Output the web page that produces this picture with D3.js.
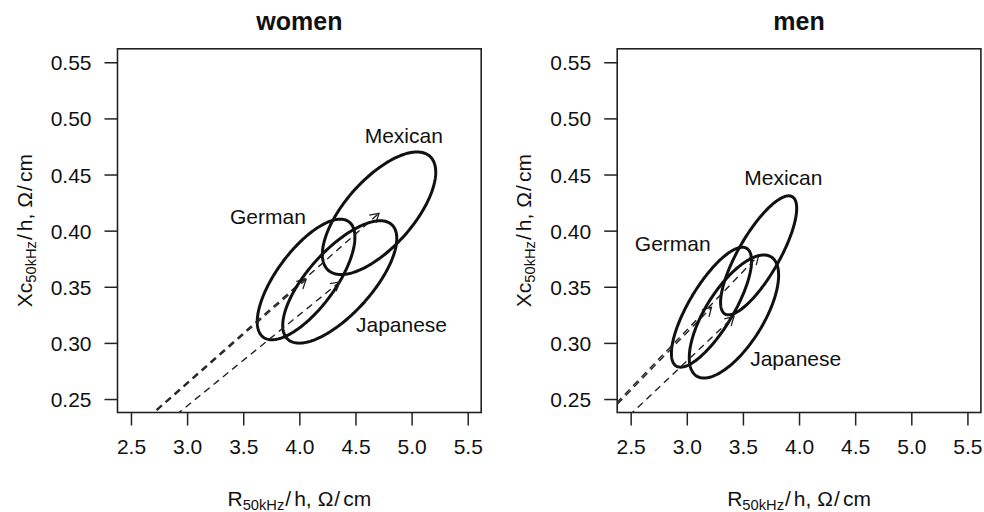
<!DOCTYPE html>
<html>
<head>
  <script src="https://d3js.org/d3.v7.min.js"></script>
  <style>
    body { margin: 0; background: #fff; }
    text { font-family: "Liberation Sans", Arial, sans-serif; fill: #111; }
  </style>
</head>
<body>
  <svg width="984" height="512"></svg>

  <script>
    // groups, same order in every array
    const groups = ["German", "Mexican", "Japanese"];

    // women: mean vectors, half extents of the ellipse, correlation R-Xc
    const womenMeanR = [4.06, 4.71, 4.36];
    const womenMeanXc = [0.3565, 0.4155, 0.3543];
    const womenHalfR = [0.435, 0.505, 0.508];
    const womenHalfXc = [0.0537, 0.0546, 0.0545];
    const womenCorr = [0.70, 0.67, 0.71];
    const womenLabelR = [3.72, 4.93, 4.91];
    const womenLabelXc = [0.4124, 0.485, 0.3168];

    // men
    const menMeanR = [3.22, 3.64, 3.42];
    const menMeanXc = [0.3318, 0.378, 0.3235];
    const menHalfR = [0.357, 0.339, 0.398];
    const menHalfXc = [0.0534, 0.053, 0.0548];
    const menCorr = [0.77, 0.79, 0.67];
    const menLabelR = [2.875, 3.86, 3.97];
    const menLabelXc = [0.3886, 0.4473, 0.2863];

    const xTicks = [2.5, 3.0, 3.5, 4.0, 4.5, 5.0, 5.5];
    const yTicks = [0.25, 0.30, 0.35, 0.40, 0.45, 0.50, 0.55];
    const xLim = [2.38, 5.62];
    const yLim = [0.238, 0.562];

    const panels = [
      { title: "women", left: 117.5, meanR: womenMeanR, meanXc: womenMeanXc, halfR: womenHalfR,
        halfXc: womenHalfXc, corr: womenCorr, labR: womenLabelR, labXc: womenLabelXc },
      { title: "men", left: 617.2, meanR: menMeanR, meanXc: menMeanXc, halfR: menHalfR,
        halfXc: menHalfXc, corr: menCorr, labR: menLabelR, labXc: menLabelXc }
    ];

    const svg = d3.select("svg");
    const size = 363.7, plotTop = 48.8, fs = 21;

    // axis title like R plotmath: main[sub]/h, Omega/cm
    function mathLabel(t, main) {
      t.append("tspan").text(main);
      t.append("tspan").attr("dy", 4).style("font-size", "14.7px").text("50kHz");
      t.append("tspan").attr("dy", -4).attr("dx", 1).text("/");
      t.append("tspan").attr("dx", 3).text("h,");
      t.append("tspan").attr("dx", 6).text("Ω");
      t.append("tspan").attr("dx", 1).text("/");
      t.append("tspan").attr("dx", 3).text("cm");
    }

    panels.forEach((p, pi) => {
      const x = d3.scaleLinear().domain(xLim).range([p.left, p.left + size]);
      const y = d3.scaleLinear().domain(yLim).range([plotTop + size, plotTop]);
      const g = svg.append("g");

      g.append("clipPath").attr("id", "clip" + pi)
        .append("rect").attr("x", p.left).attr("y", plotTop).attr("width", size).attr("height", size);

      // axes
      const ax = g.append("g").attr("transform", `translate(0,${plotTop + size})`)
        .call(d3.axisBottom(x).tickValues(xTicks).tickFormat(d3.format(".1f")).tickSize(13).tickPadding(9));
      const ay = g.append("g").attr("transform", `translate(${p.left},0)`)
        .call(d3.axisLeft(y).tickValues(yTicks).tickFormat(d3.format(".2f")).tickSize(13).tickPadding(13));
      [ax, ay].forEach(a => {
        a.select(".domain").remove();
        a.selectAll("line").attr("stroke", "#222").attr("stroke-width", 1.5);
        a.selectAll("text").style("font-size", fs + "px").attr("fill", "#111");
      });
      ax.selectAll("text").attr("dy", "0.95em");
      ay.selectAll("text").attr("dy", "0.36em");

      g.append("rect").attr("x", p.left).attr("y", plotTop).attr("width", size).attr("height", size)
        .attr("fill", "none").attr("stroke", "#222").attr("stroke-width", 1.6);

      // title
      g.append("text").attr("x", p.left + size / 2).attr("y", 30)
        .attr("text-anchor", "middle").style("font-size", "25px").style("font-weight", "bold")
        .text(p.title);

      // x label
      const xl = g.append("text").attr("x", p.left + size / 2).attr("y", 506)
        .attr("text-anchor", "middle").style("font-size", fs + "px");
      mathLabel(xl, "R");

      // y label
      const yl = g.append("text").attr("transform", `translate(${p.left - 86},${plotTop + size / 2}) rotate(-90)`)
        .attr("text-anchor", "middle").style("font-size", fs + "px");
      mathLabel(yl, "Xc");

      const plot = g.append("g").attr("clip-path", `url(#clip${pi})`);
      const line = d3.line().x(d => x(d[0])).y(d => y(d[1]));

      groups.forEach((name, i) => {
        const mR = p.meanR[i], mX = p.meanXc[i];
        const phi = Math.acos(p.corr[i]);
        const pts = d3.range(0, 2 * Math.PI + 0.001, Math.PI / 120)
          .map(t => [mR + p.halfR[i] * Math.cos(t), mX + p.halfXc[i] * Math.cos(t - phi)]);
        plot.append("path").attr("d", line(pts))
          .attr("fill", "none").attr("stroke", "#111").attr("stroke-width", 3);

        // vector from origin to the mean
        plot.append("path").attr("d", line([[0, 0], [mR, mX]]))
          .attr("fill", "none").attr("stroke", "#222").attr("stroke-width", 1.4)
          .attr("stroke-dasharray", "7,5");

        // open arrowhead
        const ex = x(mR), ey = y(mX);
        const ang = Math.atan2(ey - y(0), ex - x(0));
        const len = 10, spread = Math.PI / 6;
        const head = [
          [ex - len * Math.cos(ang - spread), ey - len * Math.sin(ang - spread)],
          [ex, ey],
          [ex - len * Math.cos(ang + spread), ey - len * Math.sin(ang + spread)]
        ];
        plot.append("path").attr("d", d3.line()(head))
          .attr("fill", "none").attr("stroke", "#222").attr("stroke-width", 1.3);

        g.append("text").attr("x", x(p.labR[i])).attr("y", y(p.labXc[i]))
          .attr("dy", "0.36em").attr("text-anchor", "middle").style("font-size", fs + "px")
          .text(name);
      });
    });
  </script>
</body>
</html>
